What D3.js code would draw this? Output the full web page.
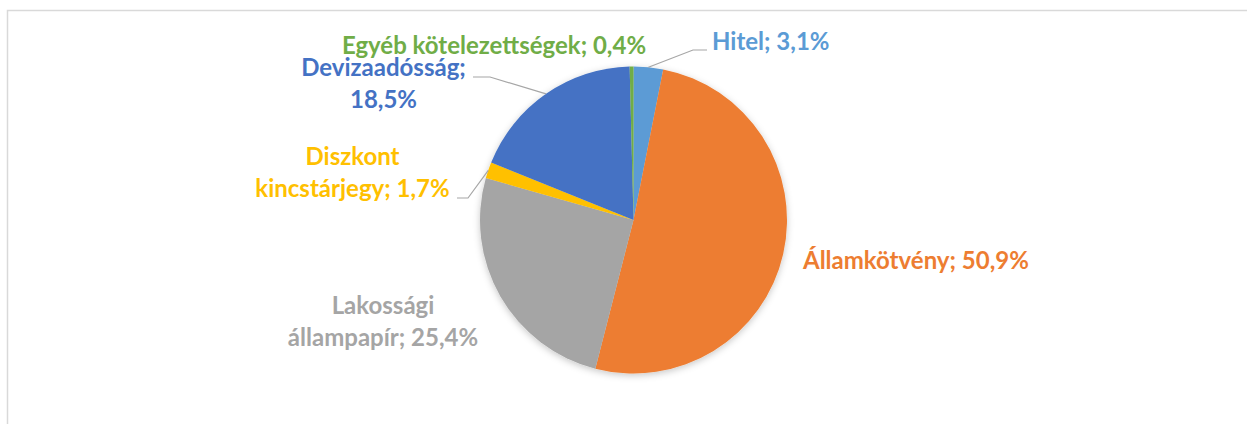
<!DOCTYPE html>
<html>
<head>
<meta charset="utf-8">
<script src="https://cdn.jsdelivr.net/npm/d3@7"></script>
<style>
  body { margin: 0; background: #fff; }
  svg { display: block; }
</style>
</head>
<body>
<svg id="pie-chart" width="1247" height="424"></svg>
<script>
// 데이터
const categories = ["Hitel", "Államkötvény", "Lakossági állampapír", "Diszkont kincstárjegy", "Devizaadósság", "Egyéb kötelezettségek"];
const shares = [3.1, 50.9, 25.4, 1.7, 18.5, 0.4];
const sliceColors = ["#5B9BD5", "#ED7D31", "#A5A5A5", "#FFC000", "#4472C4", "#70AD47"];

// label lines (as shown in the chart)
const labelLines = [
    ["Hitel; 3,1%"],
    ["Államkötvény; 50,9%"],
    ["Lakossági", "állampapír; 25,4%"],
    ["Diszkont", "kincstárjegy; 1,7%"],
    ["Devizaadósság;", "18,5%"],
    ["Egyéb kötelezettségek; 0,4%"]
];

const svg = d3.select("#pie-chart");
const cx = 633.5, cy = 220, radius = 153.5;

// chart frame
svg.append("rect")
    .attr("x", 7.5)
    .attr("y", 10.5)
    .attr("width", 1400)
    .attr("height", 600)
    .attr("fill", "#fff")
    .attr("stroke", "#d9d9d9")
    .attr("stroke-width", 1.5);

const defs = svg.append("defs");
defs.append("filter")
    .attr("id", "pie-shadow")
    .attr("x", "-20%").attr("y", "-20%")
    .attr("width", "140%").attr("height", "140%")
    .append("feDropShadow")
    .attr("dx", 0).attr("dy", 2)
    .attr("stdDeviation", 3.5)
    .attr("flood-color", "#000")
    .attr("flood-opacity", 0.22);

const color = d3.scaleOrdinal().domain(categories).range(sliceColors);

const pie = d3.pie().sort(null).value(d => d.value);
const arc = d3.arc().innerRadius(0).outerRadius(radius);

const data = categories.map((c, i) => ({ key: c, value: shares[i], lines: labelLines[i] }));
const arcs = pie(data);

const g = svg.append("g").attr("transform", `translate(${cx},${cy})`);

g.append("g")
    .attr("filter", "url(#pie-shadow)")
    .selectAll("path")
    .data(arcs)
    .enter()
    .append("path")
    .attr("d", arc)
    .attr("fill", d => color(d.data.key));

// label placement (relative to chart, like Excel's manual label positions)
const labelPos = {
    "Hitel": { x: 712, y: 50, anchor: "start" },
    "Államkötvény": { x: 803, y: 269, anchor: "start" },
    "Lakossági állampapír": { x: 383, y: 314, anchor: "middle" },
    "Diszkont kincstárjegy": { x: 352.5, y: 165, anchor: "middle" },
    "Devizaadósság": { x: 383.5, y: 76, anchor: "middle" },
    "Egyéb kötelezettségek": { x: 494, y: 54, anchor: "middle" }
};
const lineGap = 31.5;

// leader lines: label-side end and elbow
const leaders = {
    "Hitel": [[707, 50], [693, 50]],
    "Devizaadósság": [[473, 77], [490, 77]],
    "Diszkont kincstárjegy": [[457, 198], [468, 198]]
};

const edgeArc = d3.arc().innerRadius(radius).outerRadius(radius);

arcs.forEach(d => {
    const lead = leaders[d.data.key];
    if (!lead) return;
    const [ex, ey] = edgeArc.centroid(d);
    const pts = [lead[0], lead[1], [cx + ex, cy + ey]];
    svg.append("path")
        .attr("d", d3.line()(pts))
        .attr("fill", "none")
        .attr("stroke", "#a6a6a6")
        .attr("stroke-width", 1.2);
});

const labels = svg.append("g")
    .attr("font-family", "Lato, 'Open Sans', sans-serif")
    .attr("font-weight", "bold")
    .attr("font-size", "24px");

arcs.forEach(d => {
    const p = labelPos[d.data.key];
    const t = labels.append("text")
        .attr("text-anchor", p.anchor)
        .attr("fill", color(d.data.key));
    d.data.lines.forEach((line, i) => {
        t.append("tspan")
            .attr("x", p.x)
            .attr("y", p.y + i * lineGap)
            .text(line);
    });
});
</script>
</body>
</html>
